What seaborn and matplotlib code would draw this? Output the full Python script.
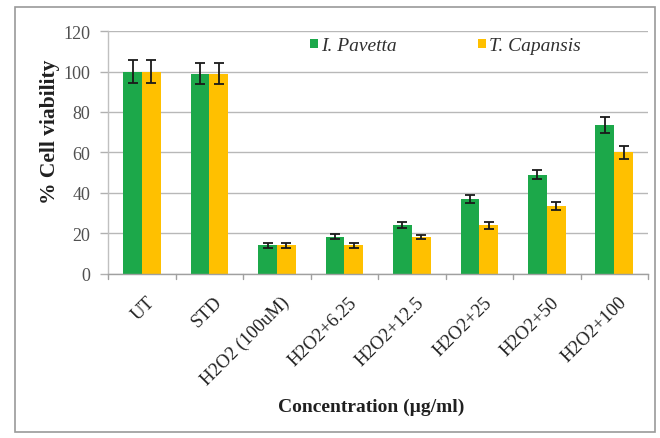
import matplotlib
matplotlib.use("Agg")
import matplotlib.pyplot as plt
import matplotlib.transforms as mtrans
import seaborn as sns
import pandas as pd
import numpy as np
from matplotlib.patches import Rectangle

categories = ["UT", "STD", "H2O2 (100uM)", "H2O2+6.25", "H2O2+12.5",
              "H2O2+25", "H2O2+50", "H2O2+100"]
series_names = ["I. Pavetta", "T. Capansis"]
pavetta = [100, 99, 14, 18.3, 24, 37, 49, 73.5]
pavetta_err = [5.5, 5, 1.2, 1.2, 1.5, 2, 2.3, 3.8]
capansis = [100, 99, 14, 14.2, 18, 24, 33.6, 60]
capansis_err = [5.5, 5, 1.2, 1.2, 1, 1.8, 2, 3.4]
colors = ["#1ca84a", "#ffc000"]
yticks = [0, 20, 40, 60, 80, 100, 120]

df = pd.DataFrame({
    "cat": categories * 2,
    "val": pavetta + capansis,
    "series": [series_names[0]] * len(categories) + [series_names[1]] * len(categories),
})

sns.set_theme(style="white")
plt.rcParams["font.family"] = ["Liberation Serif", "DejaVu Serif"]

fig = plt.figure(figsize=(6.6, 4.39), dpi=100)
ax = fig.add_axes([0.164, 0.374, 0.818, 0.553])

sns.barplot(data=df, x="cat", y="val", hue="series", order=categories,
            hue_order=series_names, palette=colors, width=0.56,
            errorbar=None, saturation=1, ax=ax, linewidth=0, zorder=2)

errs = [pavetta_err, capansis_err]
for cont, vals, er in zip(ax.containers, [pavetta, capansis], errs):
    xs = [p.get_x() + p.get_width() / 2 for p in cont.patches]
    ax.errorbar(xs, vals, yerr=er, fmt="none", ecolor="#1a1a1a",
                elinewidth=1.3, capsize=3.5, capthick=1.3, zorder=3)

ax.set_ylim(0, 120)
ax.set_xlim(-0.5, len(categories) - 0.5)
ax.set_yticks(yticks)
ax.set_yticklabels([str(t) for t in yticks], fontsize=13, color="#505050")
ax.yaxis.grid(True, color="#b8b8b8", linewidth=1.0)
ax.set_axisbelow(True)

ax.set_xticks(np.arange(len(categories)))
ax.set_xticklabels(categories, rotation=45, ha="right", rotation_mode="anchor",
                   fontsize=13.5, color="#202020")
ax.tick_params(axis="x", length=0, pad=14)
offset = mtrans.ScaledTranslation(4 / 100, 0, fig.dpi_scale_trans)
for lab in ax.get_xticklabels():
    lab.set_transform(lab.get_transform() + offset)
ax.tick_params(axis="y", length=6, width=1, color="#b0b0b0", pad=7,
               direction="out", left=True)
for b in np.arange(-0.5, len(categories), 1.0):
    ax.plot([b, b], [0, -0.02], transform=ax.get_xaxis_transform(),
            color="#a0a0a0", lw=1, clip_on=False)

for s in ["top", "right"]:
    ax.spines[s].set_visible(False)
ax.spines["left"].set_color("#c0c0c0")
ax.spines["bottom"].set_color("#a0a0a0")
ax.spines["left"].set_linewidth(1)
ax.spines["bottom"].set_linewidth(1)

ax.set_ylabel("% Cell viability", fontsize=15.5, fontweight="bold", color="#202020")
ax.yaxis.set_label_coords(-0.09, 0.59)
ax.set_xlabel("Concentration (µg/ml)", fontsize=14, fontweight="bold",
              color="#202020")
ax.xaxis.set_label_coords(0.487, -0.51)

leg = ax.legend(loc="center", bbox_to_anchor=(0.675, 0.893),
                bbox_transform=fig.transFigure, ncol=2, frameon=False,
                handlelength=0.4, handleheight=0.4, handletextpad=0.15,
                columnspacing=4.2, prop={"family": "Liberation Serif",
                                         "style": "italic", "size": 14})
for t in leg.get_texts():
    t.set_color("#303030")

fig.patches.append(Rectangle((0.023, 0.014), 0.969, 0.968,
                             transform=fig.transFigure, fill=False,
                             edgecolor="#9a9a9a", linewidth=1.2))

fig.savefig("out.png", dpi=100)
